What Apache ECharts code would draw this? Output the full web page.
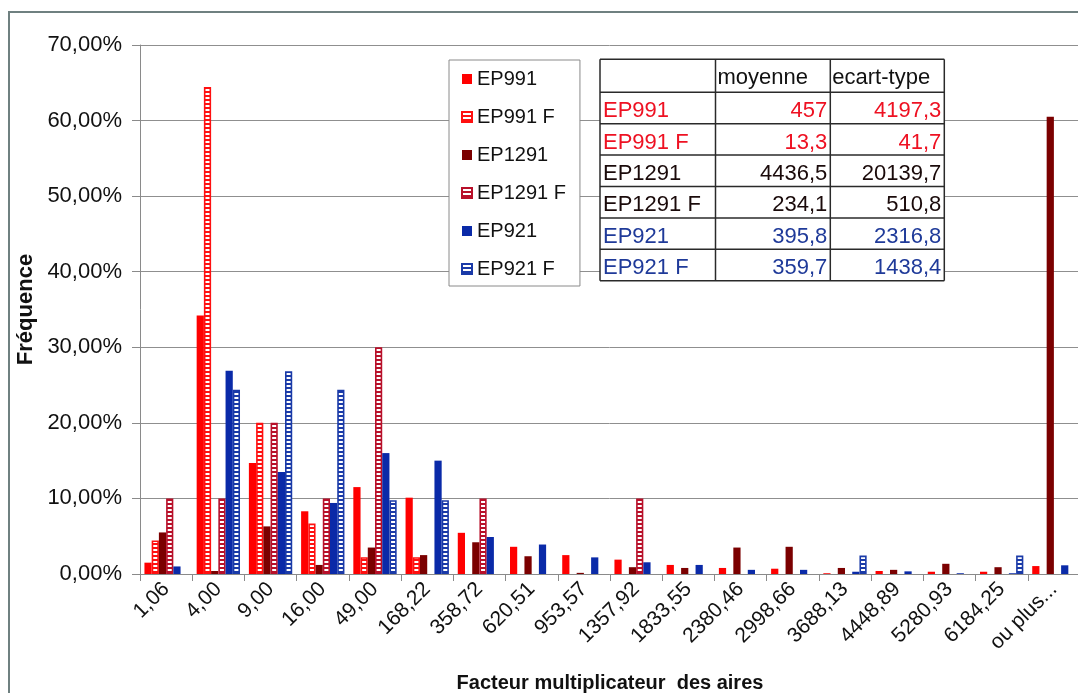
<!DOCTYPE html>
<html>
<head>
<meta charset="utf-8">
<script src="https://cdn.jsdelivr.net/npm/echarts@6/dist/echarts.min.js"></script>
<style>
  html, body { margin: 0; padding: 0; background: #fff; }
  #chart { width: 1078px; height: 693px; }
</style>
</head>
<body>
<div id="chart"></div>
<script>
// Area multiplication factor classes (x axis)
const categories = ['1,06', '4,00', '9,00', '16,00', '49,00', '168,22', '358,72', '620,51',
  '953,57', '1357,92', '1833,55', '2380,46', '2998,66', '3688,13', '4448,89', '5280,93',
  '6184,25', 'ou plus...'];

const seriesNames = ['EP991', 'EP991 F', 'EP1291', 'EP1291 F', 'EP921', 'EP921 F'];

// Frequencies in percent, one value per class
const ep991   = [1.5, 34.2, 14.7, 8.3, 11.5, 10.1, 5.45, 3.6, 2.5, 1.9, 1.2, 0.8, 0.7, 0.1, 0.4, 0.3, 0.3, 1.05];
const ep991F  = [4.44, 64.44, 20, 6.67, 2.22, 2.22, 0, 0, 0, 0, 0, 0, 0, 0, 0, 0, 0, 0];
const ep1291  = [5.5, 0.4, 6.3, 1.2, 3.5, 2.5, 4.2, 2.35, 0.15, 0.9, 0.8, 3.5, 3.6, 0.8, 0.55, 1.35, 0.9, 60.5];
const ep1291F = [10, 10, 20, 10, 30, 0, 10, 0, 0, 10, 0, 0, 0, 0, 0, 0, 0, 0];
const ep921   = [1.0, 26.9, 13.5, 9.4, 16.0, 15.0, 4.9, 3.9, 2.2, 1.55, 1.2, 0.55, 0.55, 0.3, 0.35, 0.1, 0.1, 1.15];
const ep921F  = [0, 24.39, 26.83, 24.39, 9.76, 9.76, 0, 0, 0, 0, 0, 0, 0, 2.44, 0, 0, 2.44, 0];

const seriesValues = [ep991, ep991F, ep1291, ep1291F, ep921, ep921F];
const seriesColors = ['#FF0000', '#FF1010', '#7B0000', '#B8102A', '#0A2AA8', '#1A3AA8'];
const seriesHatched = [false, true, false, true, false, true];

// Summary table: mean and standard deviation per series
const tableHeaders = ['', 'moyenne', 'ecart-type'];
const tableMoyenne = [457, 13.3, 4436.5, 234.1, 395.8, 359.7];
const tableEcartType = [4197.3, 41.7, 20139.7, 510.8, 2316.8, 1438.4];
const tableTextColors = ['#EE1122', '#EE1122', '#1A0A0A', '#1A0A0A', '#1F3A99', '#1F3A99'];

// Y axis range (percent)
const yMin = 0, yMax = 70, yStep = 10;

const FONT = "'Liberation Sans', Arial, sans-serif";

function frNumber(v, digits) {
  const s = digits === undefined ? String(v) : v.toFixed(digits);
  return s.replace('.', ',');
}

// Horizontal white-striped fill used by the "F" series
function stripePattern(color) {
  const c = document.createElement('canvas');
  c.width = 4; c.height = 4;
  const g = c.getContext('2d');
  g.fillStyle = color; g.fillRect(0, 0, 4, 4);
  g.fillStyle = '#ffffff'; g.fillRect(0, 1, 4, 2);
  return { image: c, repeat: 'repeat' };
}

const series = seriesNames.map((name, i) => ({
  name,
  type: 'bar',
  // empty classes keep their zero value but draw no outline
  data: seriesValues[i].map(v => (v === 0 ? { value: 0, itemStyle: { borderWidth: 0 } } : v)),
  barGap: '0%',
  barCategoryGap: '17%',
  itemStyle: seriesHatched[i]
    ? { color: stripePattern(seriesColors[i]), borderColor: seriesColors[i], borderWidth: 1.6 }
    : { color: seriesColors[i] },
  emphasis: { disabled: true },
  animation: false
}));

// Table drawn as graphic elements, above the grid lines
const TABLE_Z = 30;
const colX = [600, 715.5, 830.3, 944.3];
const headerH = 33, rowH = 31.4, tableTop = 59.3;
const rowY = [tableTop, tableTop + headerH];
for (let r = 1; r <= seriesNames.length; r++) rowY.push(tableTop + headerH + r * rowH);

const tableEls = [];
tableEls.push({
  type: 'rect', z: TABLE_Z, silent: true,
  shape: { x: colX[0], y: rowY[0], width: colX[3] - colX[0], height: rowY[rowY.length - 1] - rowY[0] },
  style: { fill: '#ffffff', stroke: null }
});
rowY.forEach(y => tableEls.push({
  type: 'line', z: TABLE_Z + 1, silent: true,
  shape: { x1: colX[0], y1: y, x2: colX[3], y2: y },
  style: { stroke: '#2a2a2a', lineWidth: 1.5 }
}));
colX.forEach(x => tableEls.push({
  type: 'line', z: TABLE_Z + 1, silent: true,
  shape: { x1: x, y1: rowY[0], x2: x, y2: rowY[rowY.length - 1] },
  style: { stroke: '#2a2a2a', lineWidth: 1.5 }
}));
const cellFont = { fontFamily: FONT, fontSize: 22 };
function cellText(text, x, y, fill, align) {
  return {
    type: 'text', z: TABLE_Z + 2, silent: true,
    style: Object.assign({ text, x, y, fill, align, verticalAlign: 'middle' }, cellFont)
  };
}
tableHeaders.forEach((h, c) => {
  if (h) tableEls.push(cellText(h, colX[c] + 2, rowY[1] - 14, '#111', 'left'));
});
seriesNames.forEach((name, r) => {
  const yc = rowY[r + 2] - 12.5;
  const fill = tableTextColors[r];
  tableEls.push(cellText(name, colX[0] + 3, yc, fill, 'left'));
  tableEls.push(cellText(frNumber(tableMoyenne[r]), colX[2] - 3, yc, fill, 'right'));
  tableEls.push(cellText(frNumber(tableEcartType[r]), colX[3] - 3, yc, fill, 'right'));
});

const option = {
  backgroundColor: '#ffffff',
  animation: false,
  textStyle: { fontFamily: FONT },
  grid: { left: 140, right: -2, top: 45, bottom: 119, containLabel: false, outerBoundsMode: 'none' },
  legend: {
    orient: 'vertical',
    left: 449, top: 60,
    padding: [9, 14, 7, 12],
    itemGap: 18,
    itemWidth: 10, itemHeight: 10,
    icon: 'rect',
    backgroundColor: '#ffffff',
    borderColor: '#8a8a8a', borderWidth: 1,
    textStyle: { fontFamily: FONT, fontSize: 20, color: '#111', lineHeight: 20 },
    data: seriesNames,
    selectedMode: false,
    z: 20
  },
  xAxis: {
    type: 'category',
    data: categories,
    name: 'Facteur multiplicateur  des aires',
    nameLocation: 'middle',
    nameGap: 99,
    nameTextStyle: { fontFamily: FONT, fontSize: 20, fontWeight: 'bold', color: '#111' },
    axisLine: { lineStyle: { color: '#8a8a8a', width: 1 } },
    axisTick: { show: true, length: 7, inside: false, alignWithLabel: false, lineStyle: { color: '#8a8a8a' } },
    axisLabel: { rotate: 45, margin: 12, interval: 0, fontFamily: FONT, fontSize: 21, color: '#111' },
    splitLine: { show: false }
  },
  yAxis: {
    type: 'value',
    min: yMin, max: yMax, interval: yStep,
    name: 'Fréquence',
    nameLocation: 'middle',
    nameGap: 97,
    nameRotate: 90,
    nameTextStyle: { fontFamily: FONT, fontSize: 22, fontWeight: 'bold', color: '#111' },
    axisLine: { show: true, lineStyle: { color: '#8a8a8a', width: 1 } },
    axisTick: { show: true, length: 8, inside: false, lineStyle: { color: '#8a8a8a' } },
    axisLabel: { margin: 18, fontFamily: FONT, fontSize: 22, color: '#111', formatter: v => frNumber(v, 2) + '%' },
    splitLine: { show: true, lineStyle: { color: '#8f8f8f', width: 1 } }
  },
  series,
  graphic: [
    {
      type: 'rect',
      shape: { x: 9, y: 12, width: 1100, height: 700 },
      style: { fill: 'none', stroke: '#6f8080', lineWidth: 2 },
      silent: true, z: 0
    },
    { type: 'group', children: tableEls, silent: true, z: TABLE_Z }
  ]
};

const chart = echarts.init(document.getElementById('chart'), null, { renderer: 'canvas' });
chart.setOption(option);
</script>
</body>
</html>
